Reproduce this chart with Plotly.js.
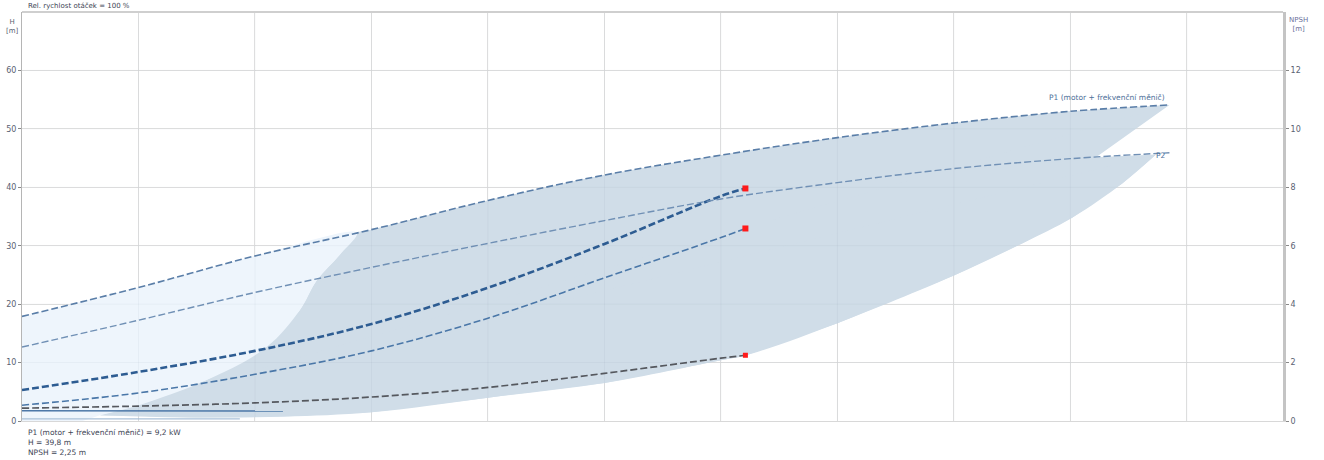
<!DOCTYPE html>
<html>
<head>
<meta charset="utf-8">
<script src="https://cdn.plot.ly/plotly-3.0.1.min.js"></script>
<style>
  html, body { margin: 0; padding: 0; background: #fff; }
  #chart { width: 1324px; height: 460px; }
</style>
</head>
<body>
<div id="chart"></div>
<script>
// Flow (m³/h) sample points and curve values
const qP1 = [0, 2, 4, 6, 8, 10, 12, 14, 16, 18, 19.7];
const p1 = [3.58, 4.57, 5.65, 6.55, 7.55, 8.42, 9.1, 9.7, 10.2, 10.6, 10.82];      // kW

const qP2 = [0, 2, 4, 6, 8, 10, 12, 14, 16, 18, 19.7];
const p2 = [2.53, 3.45, 4.4, 5.26, 6.08, 6.86, 7.6, 8.16, 8.64, 8.98, 9.18];       // kW

const qH = [0, 2, 4, 6, 8, 10, 12, 12.42];
const hMain = [5.3, 8.4, 12.0, 16.6, 22.8, 30.3, 38.5, 39.8];                      // m
const hSecond = [2.7, 4.8, 8.0, 12.0, 17.6, 24.5, 31.4, 32.95];                    // m

const qNpsh = [0, 2, 4, 6, 8, 10, 12, 12.42];
const npsh = [0.44, 0.51, 0.62, 0.82, 1.15, 1.63, 2.15, 2.25];                     // m

const qLow = [0, 1.3, 4.48];
const hLow = [1.75, 1.7, 1.7];
const qBase = [0, 3.74];
const hBase = [0.35, 0.35];

// Operating point
const qDuty = 12.42;
const hDuty = [39.8, 32.95];
const npshDuty = 2.25;

// Edge of the extended (light) zone, from top down (kW scale)
const qEdge = [5.75, 5.45, 5.06, 4.77, 4.2, 3.17, 2.02, 1.34];
const pEdge = [6.45, 5.67, 4.81, 3.79, 2.53, 1.4, 0.55, 0.2];

// Lower limit of the operating range, left to right (kW scale)
const qLim = [1.34, 3, 4.5, 6, 8, 10, 12, 12.42, 14, 16, 17.17, 18.03, 18.89, 19.47];
const pLim = [0.2, 0.12, 0.15, 0.3, 0.8, 1.3, 2.08, 2.24, 3.35, 4.98, 6.08, 6.96, 8.13, 9.12];

// Corner where the operating range is cut back to P2
const qCut = 18.44;

// Axis ranges
const hRange = [0, 70];
const pRange = [0, 14];
const qRange = [0, 21.65];
const qStep = 2;
const hTicks = [0, 10, 20, 30, 40, 50, 60];
const pTicks = [0, 2, 4, 6, 8, 10, 12];
const toH = hRange[1] / pRange[1];   // right-axis value -> left-axis value

function interp(xs, ys, x) {
  for (let i = 1; i < xs.length; i++) {
    if (x <= xs[i]) {
      const t = (x - xs[i - 1]) / (xs[i] - xs[i - 1]);
      return ys[i - 1] + t * (ys[i] - ys[i - 1]);
    }
  }
  return ys[ys.length - 1];
}

const qSplit = qEdge[0];
const pSplit = interp(qP1, p1, qSplit);
const nE = qEdge.length, nL = qLim.length;

// Light zone: under P1 from Q=0 to the edge, down to the axis
const lightX = [0, 0], lightY = [0, p1[0]];
qP1.forEach((q, i) => { if (q > 0 && q < qSplit) { lightX.push(q); lightY.push(p1[i]); } });
lightX.push(qSplit); lightY.push(pSplit);
qEdge.forEach((q, i) => { if (i > 0) { lightX.push(q); lightY.push(pEdge[i]); } });
lightX.push(qEdge[nE - 1] - 0.3); lightY.push(0);

// Rounded part of the light zone: along P1, then down the edge
const lightUpX = [], lightUpY = [];
qP1.forEach((q, i) => { if (q < qSplit) { lightUpX.push(q); lightUpY.push(p1[i]); } });
lightUpX.push(qSplit); lightUpY.push(pSplit);
qEdge.forEach((q, i) => { if (i > 0) { lightUpX.push(q); lightUpY.push(pEdge[i]); } });

// Operating range outline (straight segments)
const darkX = [qSplit], darkY = [pSplit];
qP1.forEach((q, i) => { if (q > qSplit) { darkX.push(q); darkY.push(p1[i]); } });
darkX.push(qCut); darkY.push(interp(qP2, p2, qCut));
for (let i = nL - 1; i >= 0; i--) { darkX.push(qLim[i]); darkY.push(pLim[i]); }
for (let i = nE - 2; i >= 1; i--) { darkX.push(qEdge[i]); darkY.push(pEdge[i]); }

// Rounded parts of the same range: upper side (P1 + edge) and lower limit
const upX = [], upY = [];
for (let i = qP1.length - 1; i >= 0; i--) { if (qP1[i] > qSplit) { upX.push(qP1[i]); upY.push(p1[i]); } }
upX.push(qSplit); upY.push(pSplit);
qEdge.forEach((q, i) => { if (i > 0) { upX.push(q); upY.push(pEdge[i]); } });

const darkColor = '#d0dde8';
const lightColor = '#eef5fc';
const H = arr => arr.map(v => v * toH);
const zone = (x, y, color, shape) => ({
  x: x, y: H(y), mode: 'lines', fill: 'toself', fillcolor: color,
  line: { width: 0, shape: shape, smoothing: 1 }, hoverinfo: 'skip'
});

const dashPat = '7px,3px';
const traces = [
  // Zones are drawn on the left axis so that the head curves stay above them
  zone(lightX, lightY, lightColor, 'linear'),
  zone(darkX, darkY, darkColor, 'linear'),
  zone(upX, upY, darkColor, 'spline'),
  zone(qLim, pLim, darkColor, 'spline'),
  zone(lightUpX, lightUpY, lightColor, 'spline'),
  { x: qBase, y: hBase, mode: 'lines', line: { color: '#a9c0d8', width: 1.2 } },
  { x: qLow, y: hLow, mode: 'lines', line: { color: '#4d78a8', width: 1.5 } },
  { x: qH, y: hSecond, mode: 'lines', name: 'H2',
    line: { color: '#4a77a8', width: 1.6, dash: dashPat, shape: 'spline' } },
  { x: qH, y: hMain, mode: 'lines', name: 'H',
    line: { color: '#2d5c92', width: 2.6, dash: dashPat, shape: 'spline' } },
  { x: [qDuty, qDuty], y: hDuty, mode: 'markers',
    marker: { color: '#ff1a1a', size: 6, symbol: 'square' } },
  { x: qP1, y: p1, yaxis: 'y2', mode: 'lines', name: 'P1',
    line: { color: '#5a7ea8', width: 1.6, dash: dashPat, shape: 'spline' } },
  { x: qP2, y: p2, yaxis: 'y2', mode: 'lines', name: 'P2',
    line: { color: '#7090b5', width: 1.4, dash: dashPat, shape: 'spline' } },
  { x: qNpsh, y: npsh, yaxis: 'y2', mode: 'lines', name: 'NPSH',
    line: { color: '#55585e', width: 1.7, dash: dashPat, shape: 'spline' } },
  { x: [qDuty], y: [npshDuty], yaxis: 'y2', mode: 'markers',
    marker: { color: '#ff1a1a', size: 5, symbol: 'square' } }
];

// Faint grid drawn over the shaded zones
const gridShapes = [];
for (let q = qStep; q < qRange[1]; q += qStep) {
  gridShapes.push({ type: 'line', layer: 'above', xref: 'x', yref: 'paper', x0: q, x1: q, y0: 0, y1: 1,
    line: { color: 'rgba(70,90,110,0.05)', width: 1 } });
}
hTicks.forEach(h => {
  if (h > 0) gridShapes.push({ type: 'line', layer: 'above', xref: 'paper', yref: 'y', x0: 0, x1: 1, y0: h, y1: h,
    line: { color: 'rgba(70,90,110,0.05)', width: 1 } });
});

const tickFont = { family: 'DejaVu Sans, sans-serif', size: 8, color: '#5a6172' };
const noteFont = { family: 'DejaVu Sans, sans-serif', size: 7.5, color: '#3d4454' };

const layout = {
  width: 1324, height: 460,
  margin: { l: 22, r: 41, t: 12, b: 39 },
  paper_bgcolor: '#ffffff', plot_bgcolor: '#ffffff',
  showlegend: false,
  xaxis: {
    range: qRange, dtick: qStep, tick0: 0,
    showticklabels: false, ticks: '',
    showgrid: true, gridcolor: '#e2e2e2', gridwidth: 1,
    zeroline: false, showline: true, linecolor: '#d8d8d8', linewidth: 1
  },
  yaxis: {
    range: hRange, tickvals: hTicks,
    ticks: 'outside', ticklen: 3, tickcolor: '#888',
    tickfont: tickFont, showgrid: true, gridcolor: '#e2e2e2',
    zeroline: false, showline: true, linecolor: '#b5b5b5', linewidth: 1
  },
  yaxis2: {
    overlaying: 'y', side: 'right', range: pRange,
    tickvals: pTicks,
    ticks: 'outside', ticklen: 3, tickcolor: '#888',
    tickfont: tickFont, showgrid: false, zeroline: false,
    showline: true, linecolor: '#c4c4c4', linewidth: 3
  },
  shapes: gridShapes.concat([
    { type: 'line', xref: 'paper', yref: 'paper', x0: 0, x1: 1, y0: 1, y1: 1,
      line: { color: '#cfcfcf', width: 2 } }
  ]),
  annotations: [
    { xref: 'paper', yref: 'paper', x: 0.003, y: 1.0, yshift: 12, xanchor: 'left', yanchor: 'top',
      text: 'Rel. rychlost otáček = 100 %', showarrow: false,
      font: { family: 'DejaVu Sans, sans-serif', size: 7, color: '#3d4454' } },
    { xref: 'paper', yref: 'paper', x: 0, y: 1, xshift: -10, yshift: -4, xanchor: 'center', yanchor: 'top',
      text: 'H<br>[m]', showarrow: false, font: { family: 'DejaVu Sans, sans-serif', size: 7, color: '#5a6172' } },
    { xref: 'paper', yref: 'paper', x: 1, y: 1, xshift: 15, yshift: -2, xanchor: 'center', yanchor: 'top',
      text: 'NPSH<br>[m]', showarrow: false, font: { family: 'DejaVu Sans, sans-serif', size: 7, color: '#6a6f9a' } },
    { x: qP1[qP1.length - 1], y: p1[p1.length - 1], yref: 'y2', xanchor: 'right', yanchor: 'bottom',
      xshift: -2, yshift: 1, text: 'P1 (motor + frekvenční měnič)', showarrow: false,
      font: { family: 'DejaVu Sans, sans-serif', size: 7.5, color: '#4d6f99' } },
    { x: qP2[qP2.length - 1], y: p2[p2.length - 1], yref: 'y2', xanchor: 'right', yanchor: 'middle',
      xshift: -1, yshift: -3, text: 'P2', showarrow: false,
      font: { family: 'DejaVu Sans, sans-serif', size: 7.5, color: '#4d6f99' } },
    { xref: 'paper', yref: 'paper', x: 0.003, y: 0, yshift: -5, xanchor: 'left', yanchor: 'top', align: 'left',
      text: 'P1 (motor + frekvenční měnič) = 9,2 kW<br>H = 39,8 m<br>NPSH = 2,25 m',
      showarrow: false, font: noteFont }
  ]
};

Plotly.newPlot('chart', traces, layout, { staticPlot: true, displayModeBar: false });
</script>
</body>
</html>
